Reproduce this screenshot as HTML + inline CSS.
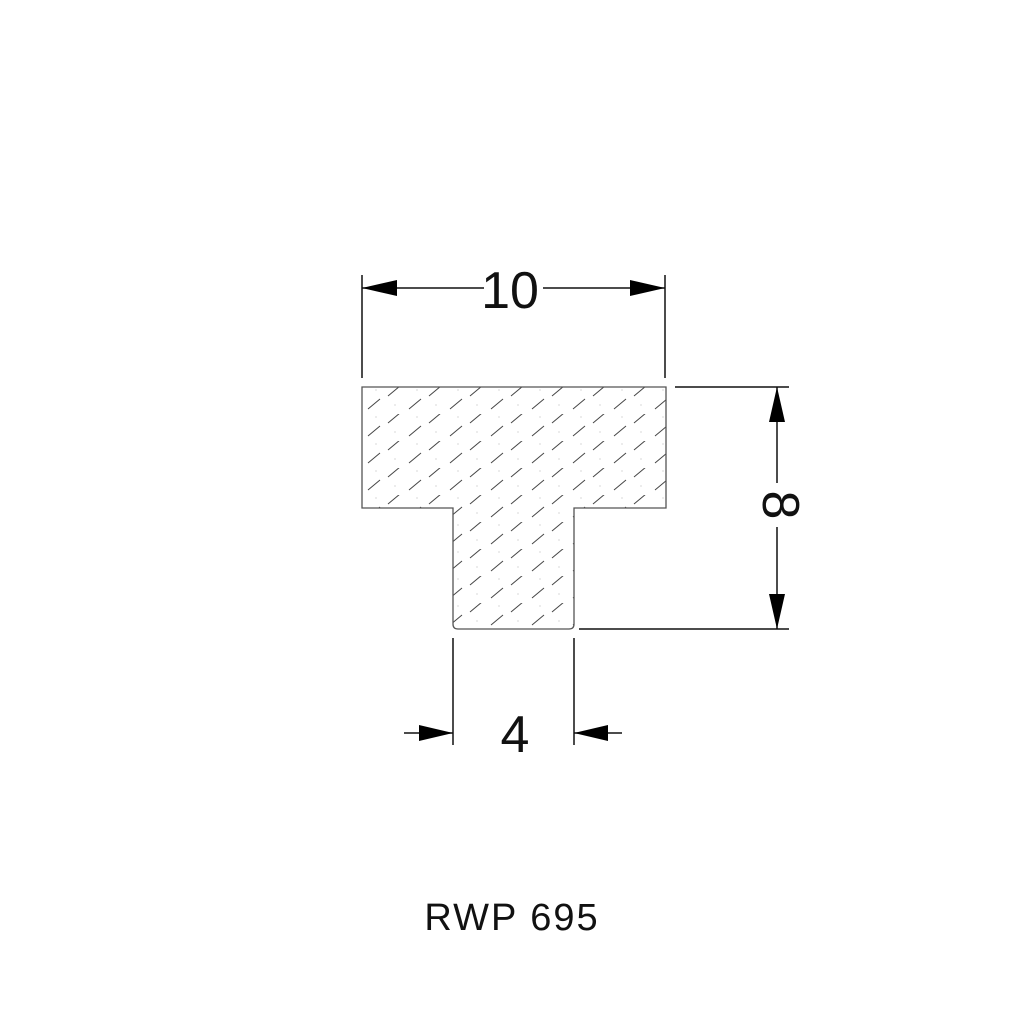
<!DOCTYPE html>
<html><head><style>
html,body{margin:0;padding:0;background:#fff;}
svg{display:block}
text{font-family:"Liberation Sans",sans-serif;fill:#111;}
</style></head><body>
<svg width="1024" height="1024" viewBox="0 0 1024 1024" xmlns="http://www.w3.org/2000/svg">
<defs>
<pattern id="h" x="362" y="387" width="41" height="27" patternUnits="userSpaceOnUse">
<line x1="6" y1="22" x2="18" y2="12" stroke="#444" stroke-width="1"/>
<line x1="26" y1="9" x2="38" y2="-1" stroke="#444" stroke-width="1"/>
<circle cx="14" cy="3" r="0.6" fill="#bbb"/><circle cx="33" cy="18" r="0.6" fill="#bbb"/>
</pattern>
</defs>
<path d="M362 387 H666 V508 H574 V624 Q574 629 569 629 H458 Q453 629 453 624 V508 H362 Z" fill="url(#h)" stroke="#555" stroke-width="1.3"/>
<g stroke="#111" stroke-width="1.5" fill="none">
<line x1="362" y1="275" x2="362" y2="378"/>
<line x1="665" y1="275" x2="665" y2="378"/>
<line x1="362" y1="288" x2="484" y2="288"/>
<line x1="543" y1="288" x2="665" y2="288"/>
<line x1="675" y1="387" x2="789" y2="387"/>
<line x1="579" y1="629" x2="789" y2="629"/>
<line x1="777" y1="387" x2="777" y2="483"/>
<line x1="777" y1="527" x2="777" y2="629"/>
<line x1="453" y1="638" x2="453" y2="745"/>
<line x1="574" y1="638" x2="574" y2="745"/>
<line x1="404" y1="733" x2="453" y2="733"/>
<line x1="574" y1="733" x2="622" y2="733"/>
</g>
<g fill="#000">
<polygon points="362,288 397,280 397,296"/>
<polygon points="665,288 630,280 630,296"/>
<polygon points="777,387 769,422 785,422"/>
<polygon points="777,629 769,594 785,594"/>
<polygon points="453,733 419,725 419,741"/>
<polygon points="574,733 608,725 608,741"/>
</g>
<text x="510" y="308" font-size="52" text-anchor="middle">10</text>
<text x="0" y="0" font-size="52" text-anchor="middle" transform="translate(763,505) rotate(90)">8</text>
<text x="515" y="752" font-size="52" text-anchor="middle">4</text>
<text x="512" y="930" font-size="38" text-anchor="middle" letter-spacing="2">RWP 695</text>
</svg>
</body></html>
